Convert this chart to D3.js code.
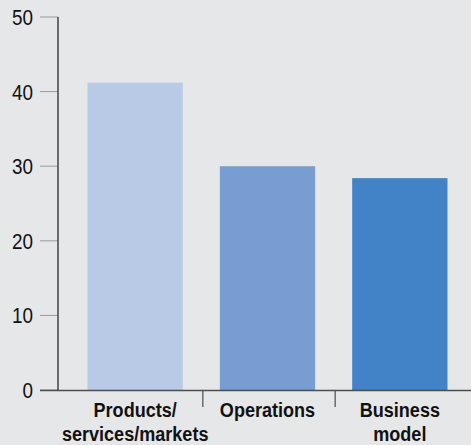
<!DOCTYPE html>
<html>
<head>
    <meta charset="utf-8">
    <script src="https://cdn.jsdelivr.net/npm/d3@7"></script>
</head>
<body style="margin:0;">
<style>
    body{ background:#e6e7e9; }
    .ticklab{ font-family:"Liberation Sans",Arial,sans-serif; font-size:22px; fill:#111; }
    .catlab{ font-family:"Liberation Sans",Arial,sans-serif; font-weight:bold; font-size:21px; fill:#111; }
</style>
<script>
    var w=471, h=445;

    var categories=[["Products/","services/markets"],["Operations"],["Business","model"]];
    var values=[41.2,30.0,28.4];
    var colors=["#b8cae6","#789dd2","#4282c6"];
    var yTicks=[0,10,20,30,40,50];

    var svg=d3.select('body').append('svg').attr('width',w).attr('height',h)
        .style('background','#e6e7e9').style('display','block');

    var y=d3.scaleLinear().domain([0,50]).range([390,17]);
    var x=d3.scaleBand().domain(d3.range(values.length)).range([69,466]).paddingInner(0.28).paddingOuter(0.14);

    //bars
    svg.selectAll('rect.bar').data(values).enter().append('rect')
        .attr('class','bar')
        .attr('x',function(d,i){return x(i)})
        .attr('width',x.bandwidth())
        .attr('y',function(d){return y(d)})
        .attr('height',function(d){return y(0)-y(d)})
        .attr('fill',function(d,i){return colors[i]});

    //y ticks
    svg.selectAll('line.ytick').data(yTicks).enter().append('line')
        .attr('x1',40).attr('x2',58)
        .attr('y1',function(d){return y(d)}).attr('y2',function(d){return y(d)})
        .attr('stroke','#9a9a9a').attr('stroke-width',1);
    svg.selectAll('text.ticklab').data(yTicks).enter().append('text')
        .attr('class','ticklab')
        .attr('transform',function(d){return 'translate(33,'+y(d)+') scale(0.86,1)'})
        .attr('dy','0.36em').attr('text-anchor','end')
        .text(function(d){return d});

    //axes
    svg.append('line').attr('x1',58).attr('x2',58).attr('y1',y(50)).attr('y2',y(0))
        .attr('stroke','#4d4d4d').attr('stroke-width',1.6);
    svg.append('line').attr('x1',40).attr('x2',w).attr('y1',y(0)+0.5).attr('y2',y(0)+0.5)
        .attr('stroke','#4d4d4d').attr('stroke-width',1.6);

    //category separators
    var seps=d3.range(1,values.length).map(function(i){return (x(i-1)+x.bandwidth()+x(i))/2+1.5});
    svg.selectAll('line.sep').data(seps).enter().append('line')
        .attr('x1',function(d){return d}).attr('x2',function(d){return d})
        .attr('y1',y(0)).attr('y2',y(0)+17)
        .attr('stroke','#4d4d4d').attr('stroke-width',1.2);

    //category labels
    var lab=svg.selectAll('text.catlab').data(categories).enter().append('text')
        .attr('class','catlab').attr('text-anchor','middle')
        .attr('transform',function(d,i){return 'translate('+(x(i)+x.bandwidth()/2)+',417) scale(0.86,1)'});
    lab.selectAll('tspan').data(function(d){return d}).enter().append('tspan')
        .attr('x',0)
        .attr('dy',function(d,i){return i==0?0:24})
        .text(function(d){return d});
</script>
</body>
</html>
